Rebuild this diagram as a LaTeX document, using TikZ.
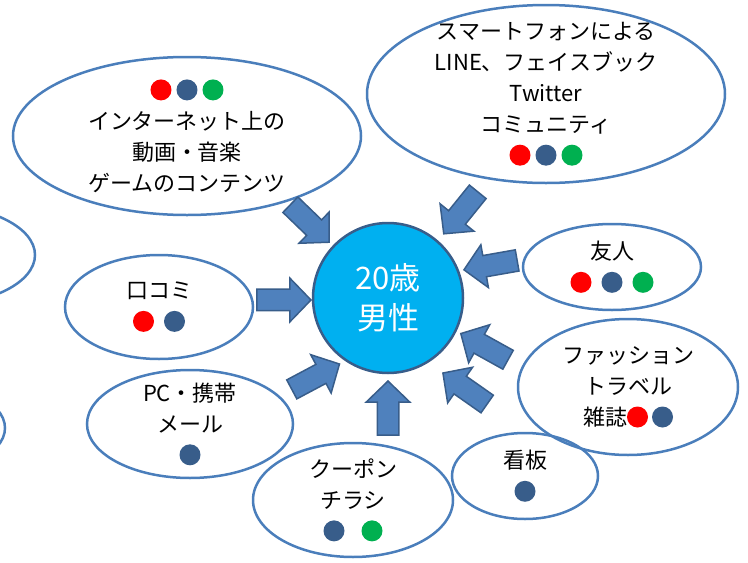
\documentclass[tikz,border=0pt]{standalone}
\usepackage{fontspec}
\setmainfont{Noto Sans CJK JP}
\usetikzlibrary{shapes.geometric,shapes.arrows,calc}

\definecolor{bubbleline}{HTML}{4A7EBB}
\definecolor{arrowfill}{HTML}{4F81BD}
\definecolor{arrowline}{HTML}{385D8A}
\definecolor{centerfill}{HTML}{00B0F0}
\definecolor{dotred}{HTML}{FF0000}
\definecolor{dotblue}{HTML}{385D8A}
\definecolor{dotgreen}{HTML}{00B050}

\newcommand\tama[1]{\tikz[baseline=-8.4pt]\fill[#1] (0,0) circle (10.5pt);}

\tikzset{
  bubble/.style={ellipse,draw=bubbleline,line width=2.5pt,inner sep=0pt},
  words/.style={align=center,inner sep=0pt,font=\fontsize{22}{31}\selectfont},
  push/.style={single arrow,draw=arrowline,fill=arrowfill,line width=1.5pt,inner xsep=0pt,inner ysep=10pt,
    minimum height=54pt,single arrow head extend=11pt,single arrow tip angle=92,anchor=tip}
}

\begin{document}
\begin{tikzpicture}[x=1pt,y=1pt]
\useasboundingbox (0,0) rectangle (748,-563);

\node[circle,fill=centerfill,draw=arrowline,line width=2.5pt,minimum size=150pt,align=center,text=white,
  font=\fontsize{31}{40}\selectfont] (man) at (388,-298) {20歳\\男性};

\node[bubble,minimum width=200pt,minimum height=100pt] (lefttop) at (-65,-255) {};
\node[bubble,minimum width=200pt,minimum height=96pt] (leftlow) at (-95,-428) {};

\node[bubble,minimum width=348pt,minimum height=158pt] (net) at (187,-136) {};
\node[words] (net-t) at (net) {\tama{dotred}\hspace{5pt}\tama{dotblue}\hspace{5pt}\tama{dotgreen}\\インターネット上の\\動画・音楽\\ゲームのコンテンツ};

\node[bubble,minimum width=358pt,minimum height=178pt] (smart) at (546,-94) {};
\node[words] (smart-t) at (smart) {スマートフォンによる\\LINE、フェイスブック\\Twitter\\コミュニティ\\\tama{dotred}\hspace{5pt}\tama{dotblue}\hspace{5pt}\tama{dotgreen}};

\node[bubble,minimum width=178pt,minimum height=86pt] (friend) at (612,-267) {};
\node[words] (friend-t) at (friend) {友人\\\tama{dotred}\hspace{10pt}\tama{dotblue}\hspace{10pt}\tama{dotgreen}};

\node[bubble,minimum width=220pt,minimum height=136pt] (mag) at (628,-387) {};
\node[words] (mag-t) at (mag) {ファッション\\トラベル\\雑誌\tama{dotred}\hspace{4pt}\tama{dotblue}};

\node[bubble,minimum width=146pt,minimum height=86pt] (sign) at (525,-476) {};
\node[words] (sign-t) at (sign) {看板\\\tama{dotblue}};

\node[bubble,minimum width=200pt,minimum height=114pt] (coupon) at (353,-500) {};
\node[words] (coupon-t) at (coupon) {クーポン\\チラシ\\\tama{dotblue}\hspace{17pt}\tama{dotgreen}};

\node[bubble,minimum width=188pt,minimum height=104pt] (kuchi) at (159,-307) {};
\node[words] (kuchi-t) at (kuchi) {口コミ\\\tama{dotred}\hspace{10pt}\tama{dotblue}};

\node[bubble,minimum width=206pt,minimum height=108pt] (mail) at (190,-424) {};
\node[words] (mail-t) at (mail) {PC・携帯\\メール\\\tama{dotblue}};

\node[push,rotate=-44] (a-net) at ($(man)+(136.5:80)$) {};
\node[push,rotate=231] (a-smart) at ($(man)+(49:84)$) {};
\node[push,rotate=190] (a-friend) at ($(man)+(20.5:80)$) {};
\node[push,rotate=151] (a-mag) at ($(man)+(-26:80)$) {};
\node[push,rotate=145] (a-sign) at ($(man)+(-54:92)$) {};
\node[push,rotate=90] (a-coupon) at ($(man)+(-90:82)$) {};
\node[push,rotate=28] (a-mail) at ($(man)+(-126:81)$) {};
\node[push,rotate=0] (a-kuchi) at ($(man)+(181.5:76)$) {};
\end{tikzpicture}
\end{document}
